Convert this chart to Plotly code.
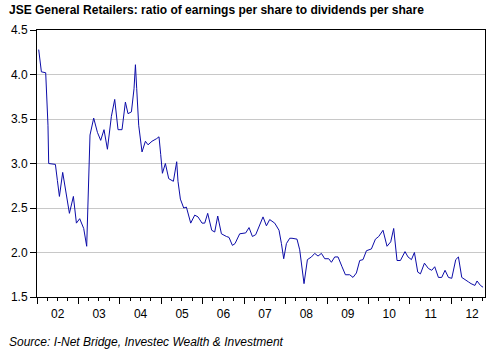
import pandas as pd
import plotly.graph_objects as go

# time measured in years since start of 2002
years_since_2002 = [
    0.041, 0.106, 0.210, 0.234, 0.265, 0.282, 0.444, 0.492, 0.541, 0.620,
    0.709, 0.782, 0.878, 0.951, 1.030, 1.127, 1.199, 1.248, 1.279, 1.368,
    1.458, 1.537, 1.617, 1.699, 1.795, 1.875, 1.955, 2.051, 2.133, 2.196,
    2.278, 2.341, 2.375, 2.406, 2.454, 2.534, 2.616, 2.679, 2.775, 2.888,
    2.944, 2.985, 3.026, 3.098, 3.178, 3.291, 3.371, 3.402, 3.460, 3.540,
    3.605, 3.709, 3.806, 3.885, 3.982, 4.047, 4.119, 4.216, 4.288, 4.361,
    4.450, 4.570, 4.633, 4.715, 4.778, 4.891, 4.971, 5.036, 5.116, 5.198,
    5.277, 5.357, 5.454, 5.536, 5.615, 5.736, 5.840, 5.898, 5.953, 6.018,
    6.098, 6.153, 6.274, 6.339, 6.395, 6.443, 6.525, 6.622, 6.701, 6.781,
    6.863, 6.943, 7.039, 7.104, 7.184, 7.264, 7.360, 7.442, 7.546, 7.625,
    7.707, 7.787, 7.867, 7.949, 8.069, 8.166, 8.246, 8.349, 8.446, 8.535,
    8.607, 8.687, 8.769, 8.880, 8.952, 9.035, 9.107, 9.187, 9.252, 9.349,
    9.445, 9.525, 9.597, 9.686, 9.766, 9.846, 9.928, 10.008, 10.104, 10.169,
    10.249, 10.328, 10.410, 10.473, 10.567, 10.618, 10.700, 10.763,
]
ratio = [
    4.28, 4.03, 4.02, 3.75, 3.43, 3.00, 2.99, 2.81, 2.63, 2.90,
    2.63, 2.44, 2.63, 2.33, 2.38, 2.27, 2.07, 2.96, 3.32, 3.51,
    3.35, 3.26, 3.38, 3.16, 3.53, 3.72, 3.38, 3.38, 3.69, 3.56,
    3.58, 3.84, 4.11, 3.84, 3.43, 3.13, 3.25, 3.21, 3.25, 3.28,
    3.30, 3.10, 2.89, 3.00, 2.83, 2.80, 3.02, 2.80, 2.60, 2.50,
    2.51, 2.33, 2.42, 2.40, 2.33, 2.33, 2.44, 2.25, 2.23, 2.41,
    2.21, 2.18, 2.17, 2.08, 2.10, 2.21, 2.22, 2.22, 2.28, 2.18,
    2.20, 2.29, 2.40, 2.30, 2.37, 2.33, 2.25, 2.10, 1.93, 2.10,
    2.16, 2.16, 2.15, 2.03, 1.84, 1.65, 1.92, 1.95, 1.99, 1.96,
    1.99, 1.93, 1.93, 1.89, 1.95, 1.95, 1.84, 1.75, 1.75, 1.72,
    1.77, 1.91, 1.92, 2.02, 2.04, 2.15, 2.18, 2.25, 2.07, 2.12,
    2.27, 1.91, 1.91, 2.01, 1.95, 1.92, 2.00, 1.78, 1.76, 1.88,
    1.82, 1.80, 1.84, 1.72, 1.72, 1.80, 1.72, 1.71, 1.92, 1.95,
    1.72, 1.70, 1.67, 1.65, 1.63, 1.68, 1.63, 1.61,
]

start = pd.Timestamp("2002-01-01")
dates = [start + pd.Timedelta(days=t * 365.25) for t in years_since_2002]
x_end = start + pd.Timedelta(days=10.81 * 365.25)

title_text = "JSE General Retailers: ratio of earnings per share to dividends per share"
source_text = "Source: I-Net Bridge, Investec Wealth & Investment"

font_family = "Liberation Sans, Arial, sans-serif"

fig = go.Figure()
fig.add_trace(go.Scatter(
    x=dates, y=ratio, mode="lines",
    line=dict(color="#0c0ca8", width=1),
    hoverinfo="skip", showlegend=False,
))

fig.update_layout(
    width=503, height=361,
    margin=dict(l=37, r=18, t=30, b=64),
    paper_bgcolor="white", plot_bgcolor="white",
    font=dict(family=font_family, size=12, color="black"),
    annotations=[
        dict(text="<b>" + title_text + "</b>", xref="paper", yref="paper",
             x=-0.066, y=1.04, xanchor="left", yanchor="bottom",
             showarrow=False, font=dict(size=12, family=font_family)),
        dict(text="<i>" + source_text + "</i>", xref="paper", yref="paper",
             x=-0.066, y=-0.135, xanchor="left", yanchor="top",
             showarrow=False, font=dict(size=12, family=font_family)),
    ],
)

fig.update_xaxes(
    type="date", range=[start, x_end],
    tickformat="%y", dtick="M12", tick0="2002-01-01",
    ticklabelmode="period",
    ticks="outside", ticklen=6, tickcolor="black", tickwidth=1,
    minor=dict(dtick="M3", tick0="2002-01-01", ticks="outside", ticklen=3,
               tickcolor="black", showgrid=False),
    showgrid=False, showline=True, linecolor="black", linewidth=1, mirror=True,
    tickfont=dict(size=12), zeroline=False,
)
fig.update_yaxes(
    range=[1.5, 4.5], dtick=0.5, tick0=1.5, tickformat=".1f",
    ticks="outside", ticklen=6, tickcolor="black",
    showgrid=True, gridcolor="#c8c8c8", gridwidth=1,
    showline=True, linecolor="black", linewidth=1, mirror=True,
    tickfont=dict(size=12), zeroline=False,
)

fig.write_html("out.html", config={"displayModeBar": False},
               post_script="document.body.style.margin='0px';")
